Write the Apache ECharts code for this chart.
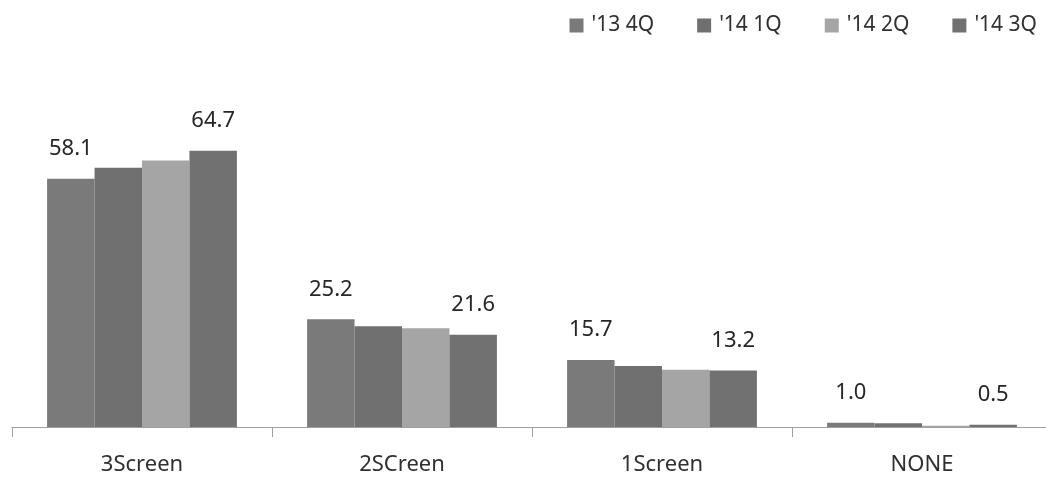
<!DOCTYPE html>
<html>
<head>
<meta charset="utf-8">
<script src="https://cdn.jsdelivr.net/npm/echarts@6/dist/echarts.min.js"></script>
<style>
  html, body { margin: 0; padding: 0; background: #ffffff; overflow: hidden; }
  /* the plot runs slightly past the right edge of the window */
  #chart { width: 1052px; height: 477px; }
</style>
</head>
<body>
<div id="chart"></div>
<script>
// Screen usage share by quarter
const categories = ['3Screen', '2SCreen', '1Screen', 'NONE'];
const seriesNames = ["'13 4Q", "'14 1Q", "'14 2Q", "'14 3Q"];
const q13_4 = [58.1, 25.2, 15.7, 1.0];
const q14_1 = [60.7, 23.6, 14.3, 0.9];
const q14_2 = [62.4, 23.1, 13.4, 0.3];
const q14_3 = [64.7, 21.6, 13.2, 0.5];
const barColors = ['#7a7a7a', '#707070', '#a5a5a5', '#717171'];

const FONT = 'Noto Sans';

function bar(name, data, color, withLabel) {
  return {
    name: name,
    type: 'bar',
    data: data,
    barGap: '0%',
    barCategoryGap: '27%',
    itemStyle: { color: color },
    label: {
      show: withLabel,
      position: 'top',
      distance: 19,
      color: '#262626',
      fontFamily: FONT,
      fontSize: 22,
      formatter: p => p.value.toFixed(1)
    },
    emphasis: { disabled: true }
  };
}

const chart = echarts.init(document.getElementById('chart'), null, { renderer: 'canvas' });
chart.setOption({
  animation: false,
  backgroundColor: '#ffffff',
  color: barColors,
  legend: {
    right: 10,
    top: 10,
    itemWidth: 14,
    itemHeight: 14,
    itemGap: 43,
    icon: 'rect',
    textStyle: { color: '#303030', fontFamily: FONT, fontSize: 21, padding: [0, 0, 0, 3] },
    data: seriesNames
  },
  grid: { left: 12, top: 128, right: 0, bottom: 50, containLabel: false },
  xAxis: {
    type: 'category',
    data: categories,
    axisLine: { lineStyle: { color: '#a0a0a0', width: 1 } },
    axisTick: { show: true, length: 10, lineStyle: { color: '#a0a0a0' } },
    axisLabel: { color: '#303030', fontFamily: FONT, fontSize: 22, margin: 27 }
  },
  yAxis: {
    type: 'value',
    min: 0,
    max: 70,
    show: false,
    splitLine: { show: false }
  },
  series: [
    bar(seriesNames[0], q13_4, barColors[0], true),
    bar(seriesNames[1], q14_1, barColors[1], false),
    bar(seriesNames[2], q14_2, barColors[2], false),
    bar(seriesNames[3], q14_3, barColors[3], true)
  ]
});
</script>
</body>
</html>
